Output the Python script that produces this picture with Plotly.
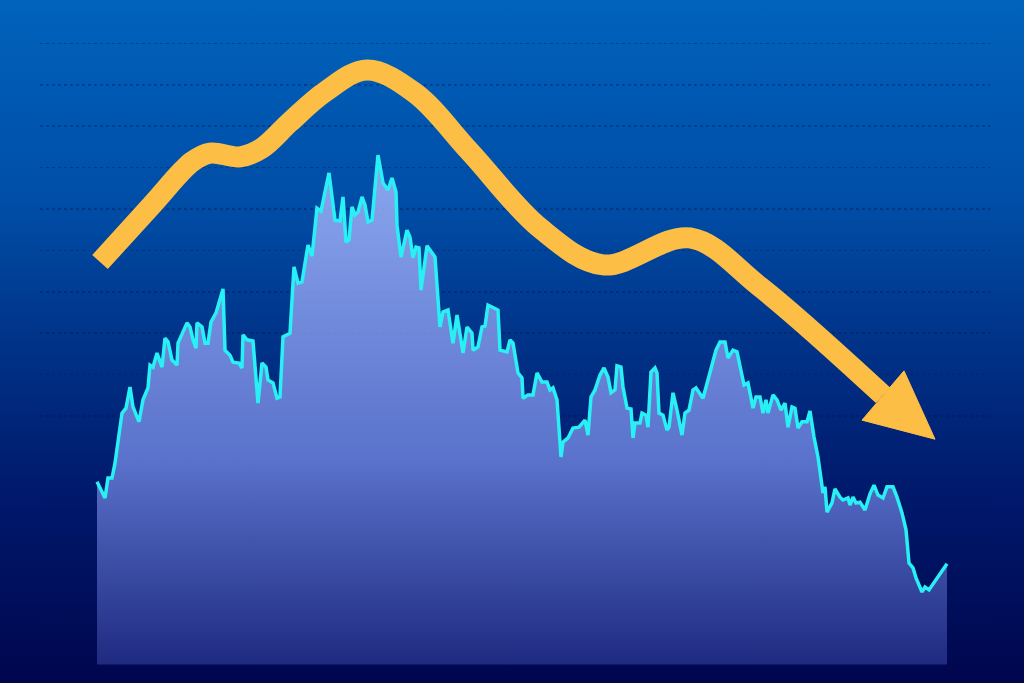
import base64
import plotly.graph_objects as go

# ---------------- data ----------------
# trading-day index of each sampled point of the price series
days = [2, 10, 13, 17, 20, 27, 31, 35, 38, 44, 48, 53, 55, 58, 62, 67, 70, 73, 77, 82,
        83, 87, 92, 95, 98, 101, 102, 107, 110, 113, 116, 121, 128, 130, 135, 138, 144, 147, 148, 152,
        158, 163, 167, 171, 173, 178, 182, 185, 188, 195, 199, 203, 207, 213, 217, 222, 226, 234, 240, 245,
        248, 251, 254, 257, 260, 263, 267, 270, 273, 277, 283, 288, 293, 297, 301, 302, 306, 312, 315, 318,
        321, 324, 326, 332, 340, 345, 348, 353, 358, 362, 368, 372, 377, 378, 383, 387, 390, 393, 398, 403,
        405, 412, 415, 418, 423, 427, 428, 433, 438, 442, 447, 452, 455, 458, 462, 466, 468, 473, 478, 484,
        490, 493, 496, 500, 505, 509, 513, 516, 520, 522, 526, 528, 532, 536, 538, 540, 545, 547, 551, 553,
        556, 560, 562, 564, 568, 572, 574, 578, 582, 587, 590, 594, 598, 601, 608, 612, 617, 621, 625, 630,
        633, 638, 642, 645, 649, 653, 658, 661, 665, 668, 671, 673, 678, 682, 686, 690, 693, 697, 700, 703,
        707, 712, 715, 719, 723, 728, 730, 732, 737, 740, 745, 748, 753, 755, 758, 761, 765, 770, 775, 779,
        783, 788, 792, 798, 802, 807, 811, 814, 818, 821, 827, 830, 834, 852]

prices = [44.1, 40.2, 45.0, 45.0, 48.6, 60.7, 61.9, 67.0, 62.2, 58.6, 63.9, 66.8, 72.3, 71.8, 75.2, 71.8, 78.8, 77.9, 73.5, 72.3,
          77.6, 80.0, 82.5, 81.5, 78.4, 76.4, 82.5, 81.5, 77.6, 77.6, 82.7, 84.9, 90.7, 75.9, 74.7, 73.0, 72.8, 71.6, 79.6, 78.4,
          78.1, 63.1, 72.8, 71.8, 68.7, 68.0, 64.3, 64.6, 79.1, 80.0, 96.0, 92.1, 92.4, 101.3, 98.6, 110.2, 109.5, 118.7, 107.3, 107.1,
          112.9, 102.0, 102.5, 110.5, 108.6, 109.3, 112.9, 111.0, 106.9, 107.3, 123.0, 116.3, 114.6, 117.5, 114.1, 106.1, 98.4, 104.9, 103.2, 98.2,
          100.8, 100.6, 90.4, 101.1, 98.4, 81.5, 85.1, 85.6, 77.6, 84.4, 75.2, 81.5, 80.0, 75.9, 76.7, 81.5, 81.7, 86.8, 86.3, 85.6,
          75.9, 75.5, 78.4, 77.6, 70.4, 69.2, 64.3, 65.1, 65.1, 70.4, 68.2, 68.2, 66.3, 66.8, 63.9, 50.1, 53.7, 54.7, 57.1, 57.3,
          59.0, 55.4, 64.6, 66.3, 69.9, 71.6, 69.4, 65.6, 66.3, 72.1, 71.8, 67.0, 61.9, 61.7, 54.7, 58.3, 58.3, 60.7, 60.2, 57.3,
          70.6, 71.6, 70.4, 60.7, 60.2, 56.6, 57.3, 65.6, 61.4, 55.4, 60.7, 61.4, 66.3, 66.8, 64.3, 68.0, 71.8, 75.9, 77.9, 77.9,
          74.0, 75.9, 75.5, 72.3, 67.5, 68.0, 61.9, 64.6, 64.6, 60.7, 63.9, 60.7, 65.1, 63.9, 61.4, 63.1, 57.3, 62.2, 61.9, 57.1,
          58.6, 58.6, 61.2, 54.9, 50.1, 41.4, 42.9, 36.8, 39.0, 42.4, 40.4, 39.7, 40.2, 38.5, 40.4, 39.0, 39.2, 37.3, 41.2, 43.3,
          40.9, 40.2, 42.9, 42.9, 40.4, 36.6, 32.5, 24.5, 23.3, 20.9, 17.5, 18.7, 18.0, 24.3]

# hand-drawn downward trend arrow, in the same day / price units
trend_days = [5, 57, 97, 115, 145, 167, 195, 230, 272, 320, 375, 445, 508, 595, 665, 788]
trend_prices = [97.2, 111.0, 121.4, 123.5, 122.6, 124.7, 131.0, 138.3, 143.6, 138.0, 123.8, 105.4, 96.5,
                103.0, 91.2, 65.0]
head_days = [767, 840, 809]
head_prices = [59.0, 54.4, 70.9]

grid_values = [10, 20, 30, 40, 50, 60, 70, 80, 90, 100, 110, 120, 130, 140, 150]

# ---------------- styling ----------------
W, H = 1024, 683
ORANGE = "#FDBE45"
CYAN = "#28F0F5"

bg_svg = (
    '<svg xmlns="http://www.w3.org/2000/svg" width="1024" height="683" preserveAspectRatio="none">'
    '<defs><linearGradient id="g" x1="0" y1="0" x2="0" y2="1">'
    '<stop offset="0" stop-color="#0063BC"/>'
    '<stop offset="0.3" stop-color="#004DA6"/>'
    '<stop offset="0.5" stop-color="#003388"/>'
    '<stop offset="0.72" stop-color="#00196C"/>'
    '<stop offset="1" stop-color="#00064E"/>'
    '</linearGradient></defs>'
    '<rect x="0" y="0" width="1024" height="683" fill="url(#g)"/></svg>'
)
bg_uri = "data:image/svg+xml;base64," + base64.b64encode(bg_svg.encode()).decode()

fig = go.Figure()

fig.add_trace(go.Scatter(
    x=days, y=prices, mode="lines",
    line=dict(color=CYAN, width=3.5),
    fill="tozeroy",
    fillgradient=dict(
        type="vertical", start=0, stop=max(prices),
        colorscale=[[0, "rgba(39,51,140,0.8)"],
                    [0.4, "rgba(112,135,226,0.8)"],
                    [1, "rgba(175,188,255,0.8)"]],
    ),
    hoverinfo="skip", showlegend=False,
))

fig.add_trace(go.Scatter(
    x=trend_days, y=trend_prices, mode="lines",
    line=dict(color=ORANGE, width=21, shape="spline", smoothing=1.0),
    hoverinfo="skip", showlegend=False,
))

fig.add_trace(go.Scatter(
    x=head_days + head_days[:1], y=head_prices + head_prices[:1], mode="lines",
    fill="toself", fillcolor=ORANGE, line=dict(color=ORANGE, width=1),
    hoverinfo="skip", showlegend=False,
))

# axis geometry: plot area spans x pixels 40..990 and full height
left_px, right_px = 40, 990
x0_px = 95  # day 0 position
fig.update_layout(
    width=W, height=H,
    margin=dict(l=left_px, r=W - right_px, t=0, b=0, pad=0),
    paper_bgcolor="#002F82",
    plot_bgcolor="rgba(0,0,0,0)",
    images=[dict(source=bg_uri, xref="paper", yref="paper",
                 x=-left_px / (right_px - left_px), y=1,
                 sizex=W / (right_px - left_px), sizey=1,
                 xanchor="left", yanchor="top", sizing="stretch", layer="below")],
    xaxis=dict(range=[left_px - x0_px, right_px - x0_px], visible=True, showgrid=False,
               zeroline=False, showticklabels=False, ticks="", showline=False, fixedrange=True),
    yaxis=dict(range=[-4.49, 160.48], tickvals=grid_values, showgrid=True,
               gridcolor="rgba(0,20,80,0.35)", gridwidth=1.5, griddash="3px,3px",
               zeroline=False, showticklabels=False, ticks="", showline=False, fixedrange=True),
    showlegend=False,
)

fig.write_html("out.html", config={"displayModeBar": False, "staticPlot": True},
               post_script="document.body.style.margin='0';document.body.style.overflow='hidden';")
